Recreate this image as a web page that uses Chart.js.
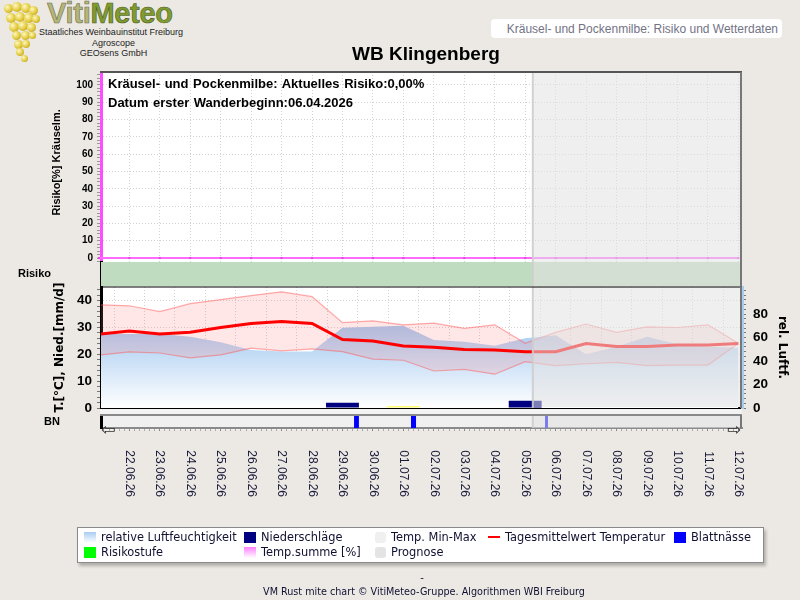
<!DOCTYPE html>
<html><head><meta charset="utf-8">
<script src="https://cdn.jsdelivr.net/npm/chart.js"></script>
<style>
html,body{margin:0;padding:0;}
body{width:800px;height:600px;background:#ece9e4;position:relative;overflow:hidden;font-family:"Liberation Sans",Arial,sans-serif;}
canvas{position:absolute;left:0;}
.t{position:absolute;white-space:nowrap;z-index:3;}
#plotbg{position:absolute;left:100px;top:72px;width:642px;height:358px;background:#f3f3f3;}
#legend{position:absolute;left:77px;top:527px;width:685px;height:34px;background:#fff;border:1px solid #8a8a8a;box-shadow:2px 3px 3px rgba(0,0,0,0.25);z-index:2;}
.lg{position:absolute;font-family:"DejaVu Sans",sans-serif;font-size:11.4px;color:#101030;line-height:12px;white-space:nowrap;z-index:3;}
.sw{position:absolute;width:12px;height:11px;z-index:3;}
.grape{position:absolute;border-radius:50%;background:radial-gradient(circle at 35% 35%,#fff8c0,#e0c83a 55%,#a88a18);}
</style></head><body>
<div id="logo"></div>
<div class="t" style="left:47px;top:-3px;font-size:29px;font-weight:bold;letter-spacing:-0.3px;"><span style="color:#b4b678;-webkit-text-stroke:0.6px #6d6d50;">Viti</span><span style="color:#7f9c32;-webkit-text-stroke:0.6px #4d5a20;">Meteo</span></div>
<div class="t" style="left:39px;top:27px;font-size:9px;color:#222;">Staatliches Weinbauinstitut Freiburg</div>
<div class="t" style="left:39px;top:38px;width:149px;text-align:center;font-size:9px;color:#222;">Agroscope</div>
<div class="t" style="left:39px;top:48px;width:149px;text-align:center;font-size:9px;color:#222;">GEOsens GmbH</div>
<div class="t" style="left:491px;top:19px;width:291px;height:19px;background:#fff;border-radius:4px;z-index:1;"></div>
<div class="t" style="left:491px;top:22px;width:287px;text-align:right;font-size:12px;color:#737385;">Kräusel- und Pockenmilbe: Risiko und Wetterdaten</div>
<div class="t" style="left:326px;top:43px;width:200px;text-align:center;font-size:19px;font-weight:bold;color:#000;">WB Klingenberg</div>
<div id="plotbg"></div>
<canvas id="cA" width="800" height="210" style="top:62px"></canvas>
<canvas id="cB" width="800" height="44" style="top:252px"></canvas>
<canvas id="cC" width="800" height="141" style="top:277px"></canvas>
<canvas id="cD" width="800" height="115" style="top:405px"></canvas>
<div class="t" style="left:108px;top:76px;font-size:13px;font-weight:bold;word-spacing:1px;color:#000;">Kräusel- und Pockenmilbe: Aktuelles Risiko:0,00%</div>
<div class="t" style="left:108px;top:95px;font-size:13px;font-weight:bold;word-spacing:1px;color:#000;">Datum erster Wanderbeginn:06.04.2026</div>
<div class="t" style="left:101px;top:421px;font-family:'DejaVu Sans';font-size:17px;line-height:17px;color:#333;">⇦</div>
<div class="t" style="left:727px;top:421px;font-family:'DejaVu Sans';font-size:17px;line-height:17px;color:#333;">⇨</div>
<div id="legend"></div>
<div class="sw" style="left:84px;top:532px;background:linear-gradient(#a9cdf2,#ffffff);"></div>
<div class="lg" style="left:101px;top:531px;">relative Luftfeuchtigkeit</div>
<div class="sw" style="left:244px;top:532px;background:#000080;"></div>
<div class="lg" style="left:261px;top:531px;">Niederschläge</div>
<div class="sw" style="left:375px;top:532px;width:11px;background:#f0f0f0;border-radius:3px;"></div>
<div class="lg" style="left:391px;top:531px;">Temp. Min-Max</div>
<div class="sw" style="left:488px;top:536px;height:2px;background:#ff0000;"></div>
<div class="lg" style="left:505px;top:531px;">Tagesmittelwert Temperatur</div>
<div class="sw" style="left:674px;top:532px;background:#0000ff;"></div>
<div class="lg" style="left:691px;top:531px;">Blattnässe</div>
<div class="sw" style="left:84px;top:547px;background:#00ff00;"></div>
<div class="lg" style="left:101px;top:546px;">Risikostufe</div>
<div class="sw" style="left:244px;top:547px;background:linear-gradient(#ff80ff,#ffffff);"></div>
<div class="lg" style="left:261px;top:546px;">Temp.summe [%]</div>
<div class="sw" style="left:375px;top:547px;width:11px;background:#e4e4e4;border-radius:3px;"></div>
<div class="lg" style="left:391px;top:546px;">Prognose</div>
<div class="lg" style="left:0;width:844px;text-align:center;top:572px;font-size:10px;">-</div>
<div class="lg" style="left:0;width:848px;text-align:center;top:586px;font-family:'DejaVu Sans Condensed','DejaVu Sans';font-size:10.7px;">VM Rust mite chart © VitiMeteo-Gruppe. Algorithmen WBI Freiburg</div>
<script>
// ---------- DATA ----------
const dates = ['21.06.26','22.06.26','23.06.26','24.06.26','25.06.26','26.06.26','27.06.26','28.06.26','29.06.26','30.06.26',
  '01.07.26','02.07.26','03.07.26','04.07.26','05.07.26','06.07.26','07.07.26','08.07.26','09.07.26','10.07.26','11.07.26','12.07.26'];
const dayX = [-1,0,1,2,3,4,5,6,7,8,9,10,11,12,13,14,15,16,17,18,19,20];
const tempMean = [27.5,28.7,27.6,28.2,30.0,31.5,32.2,31.5,25.5,25.0,23.1,22.6,21.8,21.6,21.0,21.0,24.0,22.9,22.9,23.5,23.5,24.0];
const tempMax  = [38.5,38.1,35.9,38.9,40.4,41.9,43.3,41.5,31.8,32.5,31.0,31.6,29.7,31.0,24.1,28.2,31.3,28.2,30.2,30.0,31.0,24.1];
const tempMin  = [19.7,20.9,20.5,18.7,19.8,22.3,21.3,22.0,21.0,18.2,17.8,13.8,14.4,12.6,17.3,15.8,16.5,17.0,15.8,16.0,16.0,24.0];
const humidity = [63,63,63,60.7,56,49.4,48,48,68.3,69.2,70,57.9,56.4,53,59.3,62,45.7,52.2,60.7,54.2,52.2,51.3];
const precipitation = [0,0,0,0,0,0,0,0,2.0,0,0.1,0,0,0,2.7,0,0,0,0,0,0,0];
const riskLevel = [0,0,0,0,0,0,0,0,0,0,0,0,0,0,0,0,0,0,0,0,0,0];
const tempSumPct = [0,0,0,0,0,0,0,0,0,0,0,0,0,0,0,0,0,0,0,0,0,0];
const leafWetStart = [7.38, 9.25, 13.65];
const leafWetEnd   = [7.54, 9.42, 13.75];
const forecastStart = 13.25;
const riskAxisTicks = [0,10,20,30,40,50,60,70,80,90,100];
const tempAxisTicks = [0,10,20,30,40];
const humAxisTicks = [0,20,40,60,80];
// ---------- LAYOUT CONSTANTS ----------
const X_MIN = -0.93, X_MAX = 20.12;
const riskColors = ['#c0dcc0','#fce68a','#f6a0a0'];

(function(){
  const g=document.getElementById('logo');
  const pts=[[4,4,9],[12,2,10],[21,3,10],[29,6,9],[6,13,10],[15,12,10],[24,13,10],[32,15,8],[9,22,10],[18,21,10],[27,23,9],
    [12,31,9],[21,31,9],[29,32,7],[14,40,9],[22,40,8],[16,48,8],[21,55,7]];
  pts.forEach(p=>{const d=document.createElement('div');d.className='grape';d.style.left=p[0]+'px';d.style.top=p[1]+'px';d.style.width=p[2]+'px';d.style.height=p[2]+'px';g.appendChild(d);});
})();

Chart.defaults.font.family = '"Liberation Sans", Arial, sans-serif';
Chart.defaults.color = '#000';

const bgPlugin = { id:'bgFill', beforeDraw(chart, args, o){ if(!o.color) return; const a=chart.chartArea; const c=chart.ctx; c.save(); c.fillStyle=o.color; c.fillRect(a.left,a.top,a.right-a.left,a.bottom-a.top); c.restore(); } };
const prognosePlugin = { id:'prognose', afterDatasetsDraw(chart, args, o){
  const a=chart.chartArea, c=chart.ctx, px=chart.scales.x.getPixelForValue(forecastStart);
  c.save(); c.fillStyle='rgba(226,226,226,0.55)'; c.fillRect(px,a.top,a.right-px,a.bottom-a.top-(o.cut||0));
  c.strokeStyle='rgba(205,205,205,0.9)'; c.lineWidth=2; c.beginPath(); c.moveTo(px,a.top); c.lineTo(px,a.bottom); c.stroke(); c.restore(); } };
const framePlugin = { id:'frame', afterDraw(chart, args, o){
  const a=chart.chartArea, c=chart.ctx; c.save();
  if(o.top){ c.strokeStyle=o.top; c.lineWidth=o.topW||1; c.beginPath(); c.moveTo(a.left-1,a.top); c.lineTo(a.right,a.top); c.stroke(); }
  if(o.right){ c.strokeStyle=o.right; c.lineWidth=2; c.beginPath(); c.moveTo(a.right-1,a.top); c.lineTo(a.right-1,a.bottom); c.stroke(); }
  c.restore(); } };
Chart.register(bgPlugin, prognosePlugin, framePlugin);

const baseOpts = { responsive:false, animation:false, devicePixelRatio:1, events:[] };
const noLegend = { legend:{display:false}, tooltip:{enabled:false} };
const pts = arr => dayX.map((x,i)=>({x, y:arr[i]}));
const isInt = v => Math.abs(v-Math.round(v))<1e-6;
// fixed axis sizes so that all panels share the same plot area
const fixY = w => s => { s.width = w; s.paddingTop = 0; s.paddingBottom = 0; };
const fixX = h => s => { s.height = h; s.paddingLeft = 0; s.paddingRight = 0; };

// ---------- Chart A : risk / temp sum ----------
new Chart(document.getElementById('cA'), {
  type:'line',
  data:{ datasets:[{ label:'Temp.summe [%]', data:pts(tempSumPct), borderColor:'#ff6bff', borderWidth:2,
    pointStyle:'rect', pointRadius:1.5, pointBackgroundColor:'#e447e4', pointBorderWidth:0, clip:6 }]},
  options:{ ...baseOpts, layout:{padding:{top:10,bottom:10,left:0,right:58}},
    plugins:{ ...noLegend, bgFill:{color:'#fff'}, frame:{top:'#555', topW:2, right:'#777'} },
    scales:{
      x:{ type:'linear', min:X_MIN, max:X_MAX, offset:false,
          ticks:{display:false, stepSize:1, includeBounds:false},
          grid:{color:'#d2d2d2', drawTicks:false}, border:{display:false, dash:[1,2]},
          afterFit:fixX(0) },
      y:{ min:-2.3, max:107.5,
          ticks:{stepSize:2, includeBounds:false, autoSkip:false, padding:4, color:'#000',
                 font:{weight:'bold', size:10}, callback:v=>riskAxisTicks.includes(v)?String(v):''},
          grid:{color:c=>(c.tick && riskAxisTicks.includes(c.tick.value)&&c.tick.value>0)?'#d2d2d2':'rgba(0,0,0,0)', tickColor:'#9a9a9a', tickLength:4},
          border:{color:'#ff4dff', width:3, dash:[1,2]},
          title:{display:true, text:'   Risiko[%] Kräuselm.', color:'#000', font:{weight:'bold', size:11}, padding:{top:50,bottom:0}},
          afterFit:fixY(101) }
    } }
});

// ---------- Chart B : risk level band ----------
new Chart(document.getElementById('cB'), {
  type:'line',
  data:{ datasets:[{ type:'bar', label:'Risikostufe', data:dayX.map(x=>({x, y:1})),
    backgroundColor:riskLevel.map(l=>riskColors[l]), borderWidth:0, barPercentage:1.06, categoryPercentage:1 }]},
  options:{ ...baseOpts, layout:{padding:{top:10,bottom:10,left:0,right:58}},
    plugins:{ ...noLegend, bgFill:{color:'#fff'}, prognose:{}, frame:{right:'#777'} },
    scales:{
      x:{ type:'linear', min:X_MIN, max:X_MAX, offset:false, display:false },
      y:{ min:0, max:1, afterBuildTicks:s=>{s.ticks=[{value:0.5}];},
          ticks:{padding:42, color:'#000', font:{weight:'bold', size:11}, callback:()=> 'Risiko'},
          grid:{display:false}, border:{color:'#000', width:3},
          afterFit:fixY(101) }
    } }
});

// ---------- Chart C : weather ----------
new Chart(document.getElementById('cC'), {
  type:'line',
  data:{ datasets:[
    { label:'relative Luftfeuchtigkeit', data:pts(humidity), yAxisID:'y2', fill:'origin', borderWidth:0, pointRadius:0, order:6,
      backgroundColor:(ctx)=>{ const ch=ctx.chart, a=ch.chartArea; if(!a) return 'rgba(160,200,240,0.8)';
        const g=ch.ctx.createLinearGradient(0,a.top+25,0,a.bottom); g.addColorStop(0,'rgba(148,192,238,1)'); g.addColorStop(1,'rgba(255,255,255,1)'); return g; } },
    { label:'Temp. Max', data:pts(tempMax), yAxisID:'y', fill:'+1', backgroundColor:'rgba(255,110,110,0.17)',
      borderColor:'rgba(255,90,90,0.5)', borderWidth:1.2, pointRadius:0, order:5 },
    { label:'Temp. Min', data:pts(tempMin), yAxisID:'y', fill:false,
      borderColor:'rgba(255,90,90,0.5)', borderWidth:1.2, pointRadius:0, order:4 },
    { type:'bar', label:'Niederschläge', data:dayX.map((x,i)=>({x, y:precipitation[i]>0?precipitation[i]:null})), yAxisID:'y',
      backgroundColor:precipitation.map(v=>v<0.5?'#ffff70':'#000080'), borderWidth:0, barPercentage:1.08, categoryPercentage:1, minBarLength:2, order:3 },
    { label:'Tagesmittelwert Temperatur', data:pts(tempMean), yAxisID:'y', borderColor:'#ff0000', borderWidth:3, pointRadius:0, fill:false, order:1 }
  ]},
  options:{ ...baseOpts, layout:{padding:{top:10,bottom:10,left:0,right:0}},
    plugins:{ ...noLegend, bgFill:{color:'#fff'}, prognose:{cut:1}, frame:{top:'#000', topW:1, right:'#777'} },
    scales:{
      x:{ type:'linear', min:X_MIN, max:X_MAX, offset:false,
          ticks:{display:false, stepSize:1, includeBounds:false},
          grid:{color:'#d2d2d2', drawTicks:false}, border:{color:'#000', width:2, dash:[1,2]},
          afterFit:fixX(0) },
      y:{ position:'left', min:0, max:45.1,
          ticks:{stepSize:2, includeBounds:false, autoSkip:false, padding:5, color:'#000',
                 font:{weight:'bold', size:13.5}, callback:v=>tempAxisTicks.includes(v)?String(v):''},
          grid:{color:c=>(c.tick && tempAxisTicks.includes(c.tick.value)&&c.tick.value>0)?'#d2d2d2':'rgba(0,0,0,0)', tickColor:'#777', tickLength:4},
          border:{color:'#000', width:3, dash:[1,2]},
          title:{display:true, text:'T.[°C], Nied.[mm/d]', color:'#000', font:{family:'"DejaVu Sans"', weight:'bold', size:12}, padding:{top:53,bottom:0}},
          afterFit:fixY(101) },
      y2:{ position:'right', min:0, max:103,
          ticks:{stepSize:4, includeBounds:false, autoSkip:false, padding:7, color:'#000',
                 font:{weight:'bold', size:13.5}, callback:v=>humAxisTicks.includes(v)?String(v):''},
          grid:{drawOnChartArea:false, tickColor:'#777', tickLength:4},
          border:{color:'#a9cbef', width:3},
          title:{display:true, text:'rel. Luftf.', color:'#000', font:{family:'"DejaVu Sans"', weight:'bold', size:12}, padding:{top:11,bottom:0}},
          afterFit:fixY(58) }
    } }
});

// ---------- Chart D : leaf wetness + dates ----------
const bnData = [];
leafWetStart.forEach((s,i)=>{ const e=leafWetEnd[i];
  bnData.push({x:s,y:0},{x:s,y:1},{x:e,y:1},{x:e,y:0});
  if(i<leafWetStart.length-1) bnData.push({x:(e+leafWetStart[i+1])/2, y:null}); });
new Chart(document.getElementById('cD'), {
  type:'line',
  data:{ datasets:[{ label:'Blattnässe', data:bnData, fill:'origin', backgroundColor:'#0000ff', borderWidth:0, pointRadius:0, spanGaps:false }]},
  options:{ ...baseOpts, layout:{padding:{top:10,bottom:0,left:0,right:58}},
    plugins:{ ...noLegend, bgFill:{color:'#f0f0f0'}, prognose:{}, frame:{top:'#8a8a8a', topW:2, right:'#777'} },
    scales:{
      x:{ type:'linear', min:X_MIN, max:X_MAX, offset:false, position:'bottom',
          ticks:{stepSize:1/6, includeBounds:false, autoSkip:false, minRotation:-90, maxRotation:-90, padding:66,
                 color:'#1a1a3a', font:{size:12}, callback:v=>isInt(v)?dates[Math.round(v)+1]:''},
          grid:{drawOnChartArea:false, drawTicks:true, tickLength:3, tickColor:c=>(c.tick&&isInt(c.tick.value))?'#888':'#aaa'},
          border:{color:'#8a8a8a', width:2},
          afterFit:fixX(92) },
      y:{ min:0, max:1, afterBuildTicks:s=>{s.ticks=[{value:0.5}];},
          ticks:{padding:33, color:'#000', font:{weight:'bold', size:11}, callback:()=> 'BN'},
          grid:{display:false}, border:{color:'#000', width:3},
          afterFit:fixY(101) }
    } }
});
</script>
</body></html>
